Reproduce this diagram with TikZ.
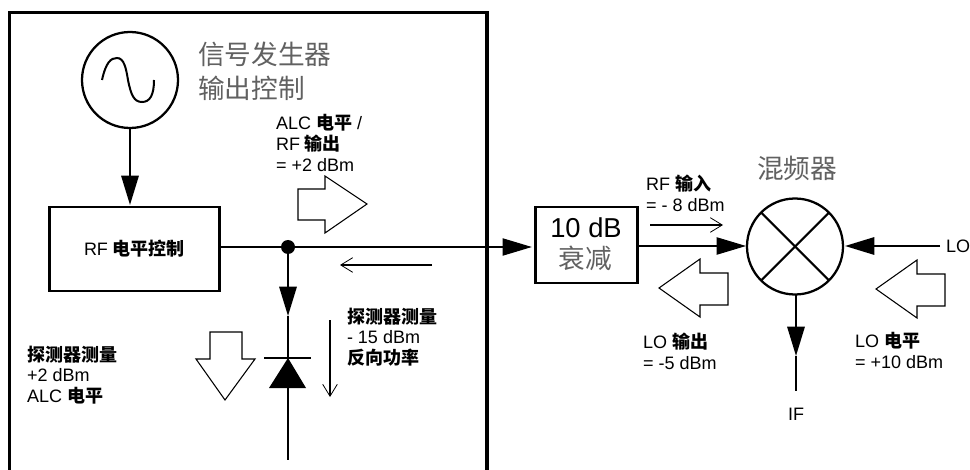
\documentclass[tikz,border=0pt]{standalone}
\usepackage{fontspec}
\setmainfont{Liberation Sans}
\newfontfamily\cjk{Noto Sans CJK SC}
\usetikzlibrary{arrows.meta}
\newcommand{\zh}[1]{{\cjk\bfseries #1}}
\definecolor{thingray}{gray}{.38}
\tikzset{
 mix wall/.style={line width=2.7pt},
 mix box/.style={draw=black,line width=2.2pt,rectangle,inner sep=0pt,outer sep=0pt},
 mix round/.style={draw=black,line width=1.7pt,circle,fill=white,minimum size=72pt,inner sep=0pt,outer sep=0pt},
 mix wire/.style={line width=.8pt},
 mix feed/.style={line width=1.6pt},
 mix head/.style={-{Triangle[length=22pt,width=13pt]}},
 mix thin/.style={line width=1pt,-{Straight Barb[length=9pt,width=11pt,line width=.6pt]}},
 mix hollow/.style={draw=black,line width=.8pt,fill=white,line join=miter},
 mix label/.style={font=\fontsize{13.5}{15.5}\selectfont,align=left,anchor=west,inner sep=0pt,outer sep=0pt},
 mix title/.style={font=\cjk\fontsize{20}{25.5}\selectfont,text=thingray,align=left,anchor=west,inner sep=0pt,outer sep=0pt}
}
\begin{document}
\begin{tikzpicture}[x=.75pt,y=-.75pt]
 \useasboundingbox (0,0) rectangle (970,470);
 % signal generator wall
 \draw[mix wall] (9.5,470)--(9.5,12.5)--(487,12.5)--(487,470);
 % blocks
 \node[mix round] (osc) at (130,80) {};
 \draw[line width=1.5pt] (102,80) .. controls (106,62) and (111,58) .. (117,58)
   .. controls (124,58) and (126,68) .. (128,80)
   .. controls (131,95) and (134,102) .. (142,102)
   .. controls (150,102) and (154,95) .. (154,80);
 \node[mix box,minimum width=128pt,minimum height=63pt] (rfctrl) at (134.5,249)
   {\fontsize{13.5}{15.5}\selectfont RF \zh{电平控制}};
 \node[mix box,minimum width=76pt,minimum height=57pt] (atten) at (586.5,245) {};
 \node[inner sep=0pt,font=\fontsize{20.5}{22}\selectfont] (attendb) at (586,228) {10 dB};
 \node[inner sep=0pt,font=\cjk\fontsize{20}{22}\selectfont,text=thingray] (attentxt) at (585,258) {衰减};
 \node[mix round] (mixer) at (795,246.5) {};
 \draw[mix feed] (mixer.45)--(mixer.225);
 \draw[mix feed] (mixer.135)--(mixer.315);
 \node[circle,fill=black,minimum size=10.5pt,inner sep=0pt,outer sep=0pt] (junction) at (288,247) {};
 % free ends
 \coordinate (sensehead) at (288,316);
 \coordinate (diodebar) at (288,358);
 \coordinate (diodebase) at (288,388);
 \coordinate (diodeend) at (288,460);
 \coordinate (mixhead) at (746,246);
 \coordinate (lofree) at (940,246);
 \coordinate (ifhead) at (796,356);
 \coordinate (iffree) at (796,391);
 % connectors
 \draw[mix feed,mix head] (osc.south)--(130,205);
 \draw[mix wire] (rfctrl.east|-junction)--(junction);
 \draw[mix wire,mix head,shorten >=3pt] (junction)--(atten.west|-junction);
 \draw[mix feed,mix head] (junction)--(sensehead);
 \draw[mix feed] (sensehead)--(diodebar);
 \draw[mix wire,mix head] (atten.east|-mixhead)--(mixhead);
 \draw[mix feed,mix head,shorten >=1.5pt] (lofree)--(mixer.east|-lofree);
 \draw[mix feed,mix head] (mixer.south-|ifhead)--(ifhead);
 \draw[mix wire] (ifhead)--(iffree);
 % diode
 \draw[mix feed] (264,358)--(311,358);
 \fill (diodebar)--(306,388)--(269,388)--cycle;
 \draw[mix feed] (diodebase)--(diodeend);
 % outline arrows
 \draw[mix hollow] (298,189)--(325,189)--(325,176)--(367,204)--(325,233)--(325,220)--(298,220)--cycle;
 \draw[mix hollow] (210,359)--(210,332)--(242,332)--(242,359)--(255,359)--(225,400)--(196,359)--cycle;
 \foreach \x/\y in {0/0,217/1}{
   \draw[mix hollow,shift={(\x,\y)}] (728,273)--(700,273)--(700,259)--(659,288)--(700,317)--(700,305)--(728,305)--cycle;
 }
 % thin arrows
 \draw[mix thin] (432,265)--(340,265);
 \draw[mix thin] (330,320)--(330,397);
 \draw[mix thin] (650,225)--(723,225);
 % labels
 \node[mix title] (gentitle) at (198,71) {信号发生器\\输出控制};
 \node[mix title] (mixtitle) at (757,168) {混频器};
 \node[mix label] (alclabel) at (276,143) {ALC \zh{电平} /\\RF \zh{输出}\\= +2 dBm};
 \node[mix label] (revlabel) at (347,337) {\zh{探测器测量}\\- 15 dBm\\\zh{反向功率}};
 \node[mix label] (detlabel) at (27,375) {\zh{探测器测量}\\+2 dBm\\ALC \zh{电平}};
 \node[mix label] (rfinlabel) at (646,193.5) {RF \zh{输入}\\= - 8 dBm};
 \node[mix label] (looutlabel) at (643,351.5) {LO \zh{输出}\\= -5 dBm};
 \node[mix label] (lolevlabel) at (855,350.5) {LO \zh{电平}\\= +10 dBm};
 \node[mix label,anchor=center] (iflabel) at (796,414) {IF};
 \node[mix label] (lolabel) at (946,246) {LO};
\end{tikzpicture}
\end{document}
